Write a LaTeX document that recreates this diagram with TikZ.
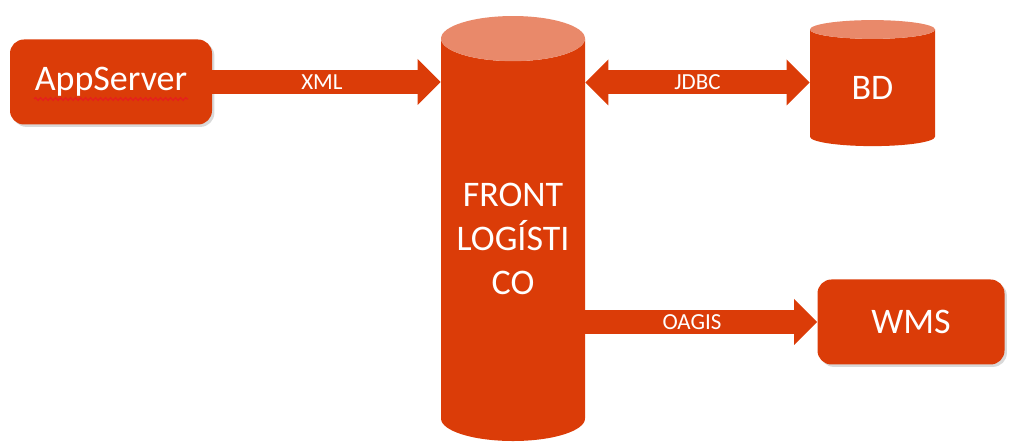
\documentclass[tikz,border=0pt]{standalone}
\usepackage{fontspec}
\setmainfont{Carlito}
\usetikzlibrary{positioning,shapes.geometric,arrows.meta,shadows,decorations.pathmorphing}
\definecolor{boxred}{RGB}{219,60,8}
\definecolor{toppink}{RGB}{233,137,106}
\definecolor{spellred}{RGB}{230,30,30}

\begin{document}
\begin{tikzpicture}[x=0.5pt,y=-0.5pt,
  lift/.style={drop shadow={shadow xshift=1.2pt,shadow yshift=-1.2pt,opacity=0.3}},
  box/.style={lift,rectangle,rounded corners=7pt,fill=boxred,text=white,font=\fontsize{18}{22}\selectfont,minimum width=101pt,minimum height=42.5pt},
  can/.style={cylinder,shape border rotate=90,cylinder uses custom fill,cylinder body fill=boxred,cylinder end fill=toppink,text=white,font=\fontsize{18}{22}\selectfont,inner sep=0pt},
  link/.style={boxred,line width=12pt},
  fat/.tip={Triangle[width=23pt,length=11.5pt,line width=0pt]},
  lbl/.style={text=white,font=\fontsize{11.5}{13}\selectfont}]
  \useasboundingbox (0,0) rectangle (1009,443);

  \node[box] (app) at (111,82) {AppServer};
  \node[can,minimum width=72pt,minimum height=212.5pt,aspect=0.4] (front) at (513,240)
       {\raisebox{-27.5pt}[0pt][0pt]{\begin{tabular}[b]{@{}c@{}}FRONT\\LOGÍSTI\\CO\end{tabular}}};
  \node[can,minimum width=62.5pt,minimum height=63pt,aspect=0.45] (bd) at (872.5,88) {BD};
  \node[box,minimum width=93.5pt] (wms) at (911,322) {WMS};

  % spell check mark
  \draw[spellred,line width=0.6pt,decorate,decoration={snake,segment length=2.5pt,amplitude=0.7pt}]
       ([xshift=-38.5pt,yshift=-8.5pt]app.center) -- ([xshift=38.5pt,yshift=-8.5pt]app.center);

  \draw[link,-fat] (app.east) -- (app.east -| front.west) node[lbl,pos=0.48] {XML};
  \draw[link,fat-fat] (front.east |- 0,82.5) -- (bd.west |- 0,82.5) node[lbl,midway] {JDBC};
  \draw[link,-fat] (front.east |- wms) -- (wms.west) node[lbl,pos=0.46] {OAGIS};
\end{tikzpicture}
\end{document}
